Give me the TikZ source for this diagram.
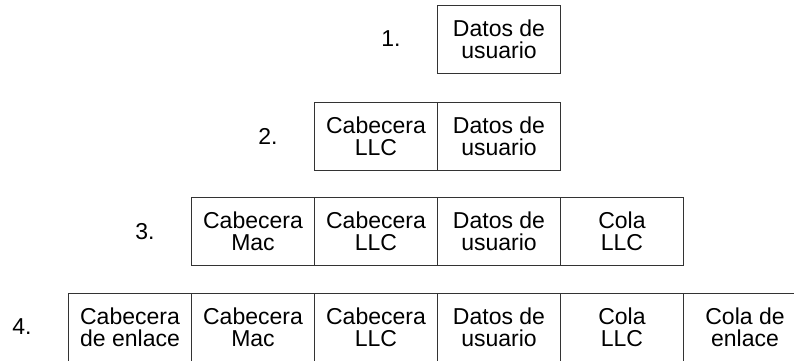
\documentclass[tikz,border=0pt]{standalone}
\usepackage{fontspec}
\setmainfont{Liberation Sans}
\usepackage{tikz}
\definecolor{rahmen}{gray}{0.2}
\tikzstyle{campo} = [rectangle, draw = rahmen, line width = 0.5pt, inner sep = 0pt, minimum width = 61.5pt, minimum height = 34pt, align = center, font = \fontsize{11.5}{11}\selectfont]
\tikzstyle{paso} = [inner sep = 0pt, anchor = east, font = \fontsize{11.5}{11}\selectfont]

\begin{document}
\begin{tikzpicture}[x = 0.5pt, y = 0.5pt]
        \clip (0, 0) rectangle (794, 360);
        % 1.
        \node (d1) at (499, 321) [campo] {Datos de\\usuario};
        \node (l1) at ([xshift = -18pt]d1.west) [paso] {1.};
        % 2.
        \node (c2) at (376, 224) [campo] {Cabecera\\LLC};
        \node (d2) at (499, 224) [campo] {Datos de\\usuario};
        \node (l2) at ([xshift = -18pt]c2.west) [paso] {2.};
        % 3.
        \node (m3) at (253, 128.5) [campo] {Cabecera\\Mac};
        \node (c3) at (376, 128.5) [campo] {Cabecera\\LLC};
        \node (d3) at (499, 128.5) [campo] {Datos de\\usuario};
        \node (t3) at (622, 128.5) [campo] {Cola\\LLC};
        \node (l3) at ([xshift = -18pt]m3.west) [paso] {3.};
        % 4.
        \node (e4) at (130, 33) [campo] {Cabecera\\de enlace};
        \node (m4) at (253, 33) [campo] {Cabecera\\Mac};
        \node (c4) at (376, 33) [campo] {Cabecera\\LLC};
        \node (d4) at (499, 33) [campo] {Datos de\\usuario};
        \node (t4) at (622, 33) [campo] {Cola\\LLC};
        \node (f4) at (745, 33) [campo] {Cola de\\enlace};
        \node (l4) at ([xshift = -18pt]e4.west) [paso] {4.};
    \end{tikzpicture}
\end{document}
